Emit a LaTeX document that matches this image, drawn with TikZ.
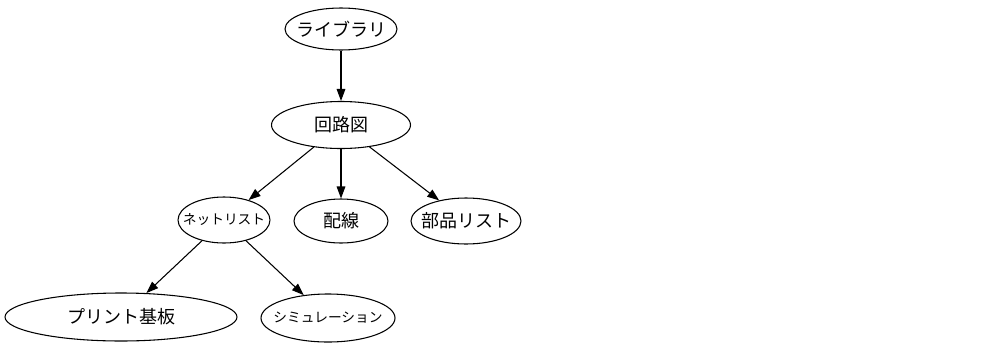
\documentclass[tikz,border=0pt]{standalone}
\usepackage{fontspec}
\setmainfont{Noto Sans CJK JP}
\usetikzlibrary{shapes.geometric,arrows.meta}
\begin{document}
\begin{tikzpicture}[x=0.75pt,y=-0.75pt,
  big/.style={font=\fontsize{13.5pt}{16pt}\selectfont},
  small/.style={font=\fontsize{10.3pt}{12pt}\selectfont},
  nd/.style={ellipse,draw,line width=0.8pt,inner sep=0pt},
  edge/.style={line width=0.8pt,-{Triangle[length=9pt,width=6.5pt]}}]
\useasboundingbox (0,0) rectangle (1000,347);
\node[nd,minimum width=84pt,minimum height=31.5pt,label={[big]center:ライブラリ}] (lib) at (341,29) {};
\node[nd,minimum width=104.25pt,minimum height=35.25pt,label={[big]center:回路図}] (sch) at (341,125) {};
\node[nd,minimum width=69pt,minimum height=34.5pt,label={[small]center:ネットリスト}] (net) at (224,220) {};
\node[nd,minimum width=70.5pt,minimum height=33pt,label={[big]center:配線}] (wire) at (341,221) {};
\node[nd,minimum width=82.5pt,minimum height=34.5pt,label={[big]center:部品リスト}] (bom) at (466,221) {};
\node[nd,minimum width=174pt,minimum height=36pt,label={[big]center:プリント基板}] (pcb) at (121,317) {};
\node[nd,minimum width=100.5pt,minimum height=36pt,label={[small]center:シミュレーション}] (sim) at (328,318) {};
\draw[edge] (lib) -- (sch);
\draw[edge] (sch) -- (net);
\draw[edge] (sch) -- (wire);
\draw[edge] (sch) -- (bom);
\draw[edge] (net) -- (pcb);
\draw[edge] (net) -- (sim);
\end{tikzpicture}
\end{document}
